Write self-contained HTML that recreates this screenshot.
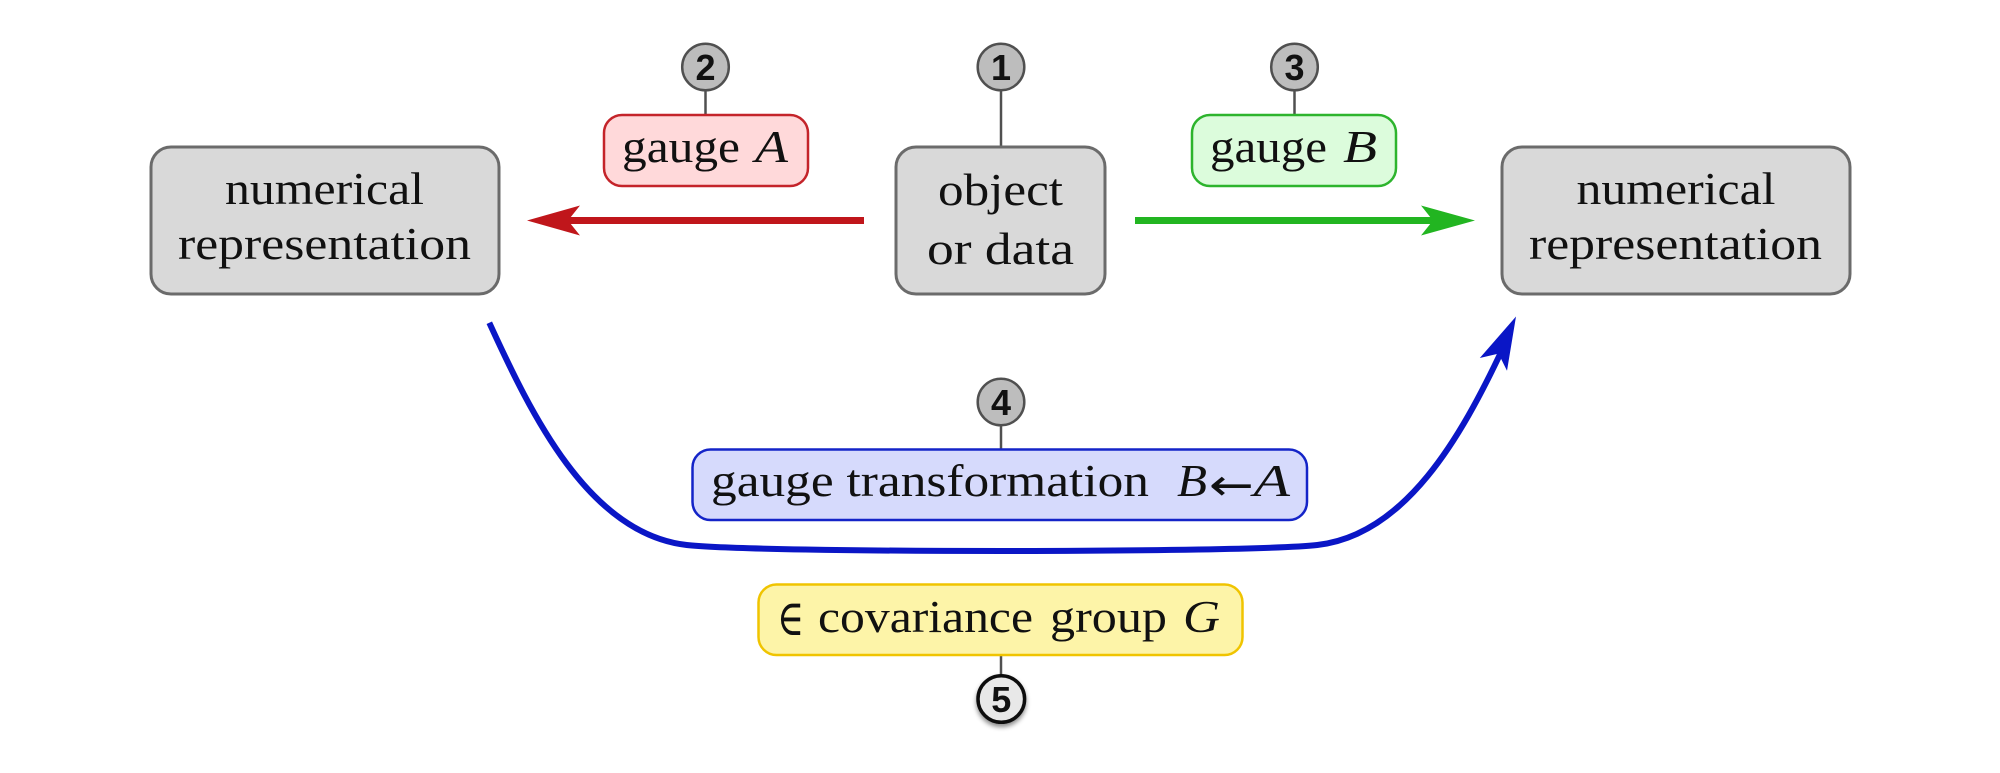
<!DOCTYPE html>
<html>
<head>
<meta charset="utf-8">
<style>
  html, body { margin: 0; padding: 0; background: #ffffff; }
  svg { display: block; }
  .t { font-family: "Liberation Serif", "DejaVu Serif", serif; font-size: 46px; fill: #111; }
  .i { font-style: italic; }
  .n { font-family: "Liberation Sans", "DejaVu Sans", sans-serif; font-weight: bold; font-size: 36px; fill: #111; text-anchor: middle; }
  .sym { font-family: "DejaVu Serif", "Liberation Serif", serif; fill: #111; }
  .arr { font-family: "DejaVu Sans", "Liberation Sans", sans-serif; fill: #111; }
</style>
</head>
<body>
<svg width="2000" height="773" viewBox="0 0 2000 773" xmlns="http://www.w3.org/2000/svg">
  <defs>
    <filter id="sh" x="-50%" y="-50%" width="200%" height="200%">
      <feDropShadow dx="0" dy="3" stdDeviation="2.5" flood-color="#000" flood-opacity="0.45"/>
    </filter>
  </defs>
  <rect x="0" y="0" width="2000" height="773" fill="#ffffff"/>

  <!-- connector lines for numbered markers -->
  <g stroke="#505050" stroke-width="2.5">
    <line x1="1001" y1="90" x2="1001" y2="147"/>
    <line x1="705.5" y1="90" x2="705.5" y2="115"/>
    <line x1="1294.5" y1="90" x2="1294.5" y2="115"/>
    <line x1="1001" y1="425" x2="1001" y2="449"/>
    <line x1="1001" y1="655" x2="1001" y2="675"/>
  </g>

  <!-- gray boxes -->
  <rect x="151" y="147" width="348" height="147" rx="20" ry="20" fill="#d9d9d9" stroke="#6b6b6b" stroke-width="3"/>
  <rect x="896" y="147" width="209" height="147" rx="20" ry="20" fill="#d9d9d9" stroke="#6b6b6b" stroke-width="3"/>
  <rect x="1502" y="147" width="348" height="147" rx="20" ry="20" fill="#d9d9d9" stroke="#6b6b6b" stroke-width="3"/>

  <text class="t" x="225" y="204" textLength="199" lengthAdjust="spacingAndGlyphs">numerical</text>
  <text class="t" x="178" y="259" textLength="293" lengthAdjust="spacingAndGlyphs">representation</text>

  <text class="t" x="938" y="205" textLength="125" lengthAdjust="spacingAndGlyphs">object</text>
  <text class="t" x="927" y="264" textLength="147" lengthAdjust="spacingAndGlyphs">or data</text>

  <text class="t" x="1576.5" y="204" textLength="199" lengthAdjust="spacingAndGlyphs">numerical</text>
  <text class="t" x="1529" y="259" textLength="293" lengthAdjust="spacingAndGlyphs">representation</text>

  <!-- gauge A -->
  <rect x="604" y="115" width="204" height="71" rx="18" ry="18" fill="#ffd9da" stroke="#c4242a" stroke-width="2.5"/>
  <text class="t" x="622" y="162" textLength="118" lengthAdjust="spacingAndGlyphs">gauge</text>
  <text class="t i" x="755" y="162" textLength="33" lengthAdjust="spacingAndGlyphs">A</text>

  <!-- gauge B -->
  <rect x="1192" y="115" width="204" height="71" rx="18" ry="18" fill="#dcfcdc" stroke="#2db42d" stroke-width="2.5"/>
  <text class="t" x="1210" y="162" textLength="117" lengthAdjust="spacingAndGlyphs">gauge</text>
  <text class="t i" x="1343" y="162" textLength="34" lengthAdjust="spacingAndGlyphs">B</text>

  <!-- red arrow -->
  <line x1="566" y1="220.5" x2="864" y2="220.5" stroke="#c0161b" stroke-width="7"/>
  <polygon points="527,220.5 580,205.5 568,220.5 580,235.5" fill="#c0161b"/>

  <!-- green arrow -->
  <line x1="1135" y1="220.5" x2="1434" y2="220.5" stroke="#22b521" stroke-width="7"/>
  <polygon points="1475,220.5 1421,205.5 1433,220.5 1421,235.5" fill="#22b521"/>

  <!-- blue curve -->
  <path d="M 489.3 322.7 C 530.5 412.7, 588.3 533.9, 686.7 545 C 757.7 553, 1246.3 553, 1317.3 545 C 1405.86 535.01, 1461.53 435.84, 1501.81 350.49"
        fill="none" stroke="#0a16c6" stroke-width="6" stroke-linecap="butt"/>
  <polygon points="1516,316.5 1507.0,370.8 1498.5,353.6 1479.8,358.0" fill="#0a16c6"/>

  <!-- gauge transformation box -->
  <rect x="692.5" y="449.5" width="614.5" height="70.5" rx="18" ry="18" fill="#d6dafc" stroke="#1424c8" stroke-width="2.5"/>
  <text class="t" x="711" y="496" textLength="438" lengthAdjust="spacingAndGlyphs">gauge transformation</text>
  <text class="t i" x="1177" y="496" textLength="30" lengthAdjust="spacingAndGlyphs">B</text>
  <text class="arr" x="1209" y="500" font-size="44" textLength="45" lengthAdjust="spacingAndGlyphs">←</text>
  <text class="t i" x="1253.5" y="496" textLength="36.5" lengthAdjust="spacingAndGlyphs">A</text>

  <!-- covariance group box -->
  <rect x="758.5" y="584.5" width="484" height="70.5" rx="18" ry="18" fill="#fdf4a8" stroke="#f0c400" stroke-width="2.5"/>
  <text class="sym" x="777" y="635" font-size="50" textLength="27" lengthAdjust="spacingAndGlyphs">∈</text>
  <text class="t" x="818" y="632" textLength="215" lengthAdjust="spacingAndGlyphs">covariance</text>
  <text class="t" x="1050" y="632" textLength="117" lengthAdjust="spacingAndGlyphs">group</text>
  <text class="t i" x="1183" y="632" textLength="37" lengthAdjust="spacingAndGlyphs">G</text>

  <!-- numbered markers -->
  <circle cx="1001" cy="67" r="23.3" fill="#bdbdbd" stroke="#505050" stroke-width="2.5"/>
  <text class="n" x="1001" y="80">1</text>
  <circle cx="705.5" cy="67" r="23.3" fill="#bdbdbd" stroke="#505050" stroke-width="2.5"/>
  <text class="n" x="705.5" y="80">2</text>
  <circle cx="1294.5" cy="67" r="23.3" fill="#bdbdbd" stroke="#505050" stroke-width="2.5"/>
  <text class="n" x="1294.5" y="80">3</text>
  <circle cx="1001" cy="402" r="23.3" fill="#bdbdbd" stroke="#505050" stroke-width="2.5"/>
  <text class="n" x="1001" y="415">4</text>
  <g filter="url(#sh)">
    <circle cx="1001.3" cy="699" r="23.3" fill="#e8e8e8" stroke="#111111" stroke-width="3.5"/>
  </g>
  <text class="n" x="1001.3" y="712">5</text>
</svg>
</body>
</html>
